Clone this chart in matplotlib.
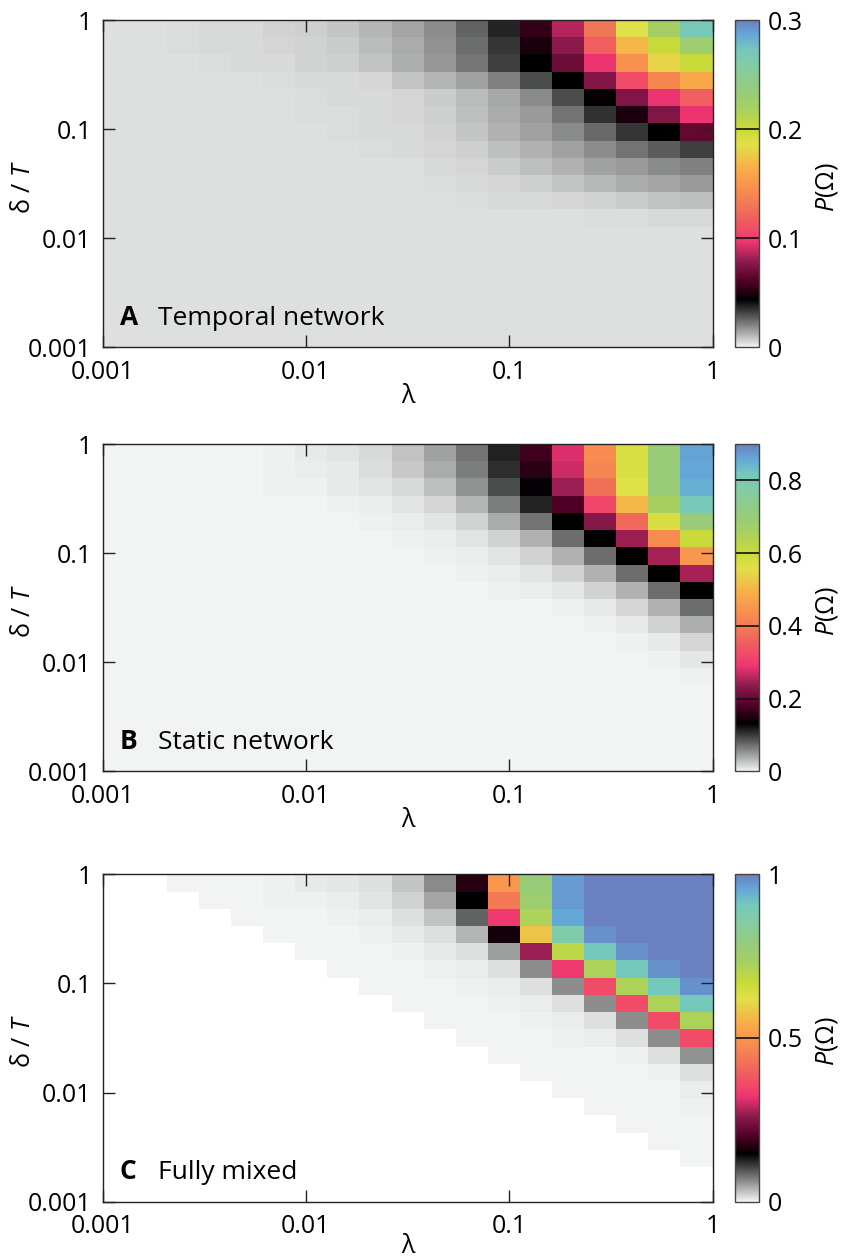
import numpy as np
import matplotlib
matplotlib.use('Agg')
import matplotlib.pyplot as plt
from matplotlib.colors import LinearSegmentedColormap
from matplotlib.ticker import NullLocator

plt.rcParams['font.family'] = ['Open Sans', 'DejaVu Sans']
plt.rcParams['mathtext.fontset'] = 'custom'
plt.rcParams['mathtext.it'] = 'Open Sans:italic'
plt.rcParams['mathtext.rm'] = 'Open Sans'

# ---------------- data ----------------
lam_edges = np.logspace(-3, 0, 20)      # cell edges along lambda (19 cells)
delta_edges = np.logspace(-3, 0, 20)    # cell edges along delta/T (19 cells)
tick_vals = [1e-3, 1e-2, 1e-1, 1]
tick_labels = ['0.001', '0.01', '0.1', '1']

# rows listed from top (delta/T = 1) to bottom (delta/T = 0.001)
P_temporal = [
    [0.0039, 0.0039, 0.0045, 0.0049, 0.0052, 0.0059, 0.0066, 0.0084, 0.0116, 0.0145, 0.0186, 0.0261, 0.0372, 0.054, 0.086, 0.129, 0.186, 0.222, 0.270],
    [0.0039, 0.0039, 0.0043, 0.0047, 0.0050, 0.0055, 0.0061, 0.0075, 0.0102, 0.0131, 0.0177, 0.0242, 0.0340, 0.049, 0.078, 0.117, 0.168, 0.201, 0.228],
    [0.0039, 0.0039, 0.0039, 0.0043, 0.0047, 0.0052, 0.0059, 0.0070, 0.0090, 0.0124, 0.0168, 0.0227, 0.0324, 0.0435, 0.069, 0.096, 0.147, 0.180, 0.201],
    [0.0039, 0.0039, 0.0039, 0.0039, 0.0039, 0.0043, 0.0047, 0.0050, 0.0055, 0.0084, 0.0116, 0.0152, 0.0206, 0.0301, 0.0435, 0.075, 0.108, 0.141, 0.159],
    [0.0039, 0.0039, 0.0039, 0.0039, 0.0039, 0.0039, 0.0043, 0.0047, 0.0050, 0.0055, 0.0075, 0.0102, 0.0138, 0.0190, 0.0301, 0.045, 0.075, 0.096, 0.117],
    [0.0039, 0.0039, 0.0039, 0.0039, 0.0039, 0.0039, 0.0043, 0.0045, 0.0048, 0.0055, 0.0070, 0.0095, 0.0131, 0.0163, 0.0231, 0.0349, 0.0495, 0.075, 0.096],
    [0.0039, 0.0039, 0.0039, 0.0039, 0.0039, 0.0039, 0.0039, 0.0043, 0.0047, 0.0052, 0.0061, 0.0084, 0.0120, 0.0147, 0.0190, 0.0251, 0.0340, 0.0435, 0.066],
    [0.0039, 0.0039, 0.0039, 0.0039, 0.0039, 0.0039, 0.0039, 0.0039, 0.0043, 0.0047, 0.0055, 0.0070, 0.0095, 0.0120, 0.0152, 0.0184, 0.0234, 0.0270, 0.0328],
    [0.0039, 0.0039, 0.0039, 0.0039, 0.0039, 0.0039, 0.0039, 0.0039, 0.0039, 0.0041, 0.0047, 0.0055, 0.0075, 0.0097, 0.0120, 0.0147, 0.0163, 0.0190, 0.0206],
    [0.0039, 0.0039, 0.0039, 0.0039, 0.0039, 0.0039, 0.0039, 0.0039, 0.0039, 0.0039, 0.0043, 0.0047, 0.0055, 0.0070, 0.0084, 0.0111, 0.0131, 0.0145, 0.0163],
    [0.0039, 0.0039, 0.0039, 0.0039, 0.0039, 0.0039, 0.0039, 0.0039, 0.0039, 0.0039, 0.0039, 0.0043, 0.0047, 0.0050, 0.0055, 0.0063, 0.0075, 0.0090, 0.0097],
    [0.0039, 0.0039, 0.0039, 0.0039, 0.0039, 0.0039, 0.0039, 0.0039, 0.0039, 0.0039, 0.0039, 0.0039, 0.0039, 0.0039, 0.0039, 0.0043, 0.0045, 0.0047, 0.0047],
    [0.0039] * 19,
    [0.0039] * 19,
    [0.0039] * 19,
    [0.0039] * 19,
    [0.0039] * 19,
    [0.0039] * 19,
    [0.0039] * 19,
]

P_static = [
    [0, 0, 0.0016, 0.0016, 0.0016, 0.0027, 0.0059, 0.0091, 0.0156, 0.0274, 0.0446, 0.0703, 0.1138, 0.171, 0.279, 0.432, 0.572, 0.702, 0.864],
    [0, 0, 0, 0.0016, 0.0016, 0.0027, 0.0038, 0.0064, 0.0140, 0.0231, 0.0392, 0.0639, 0.1058, 0.158, 0.270, 0.423, 0.572, 0.702, 0.860],
    [0, 0, 0, 0, 0.0016, 0.0021, 0.0027, 0.0054, 0.0097, 0.0156, 0.0295, 0.0532, 0.0897, 0.135, 0.243, 0.378, 0.558, 0.702, 0.850],
    [0, 0, 0, 0, 0, 0.0005, 0.0016, 0.0027, 0.0048, 0.0091, 0.0166, 0.0349, 0.0639, 0.1117, 0.180, 0.315, 0.504, 0.657, 0.810],
    [0, 0, 0, 0, 0, 0, 0.0005, 0.0016, 0.0027, 0.0043, 0.0091, 0.0183, 0.0392, 0.0703, 0.1305, 0.230, 0.369, 0.576, 0.702],
    [0, 0, 0, 0, 0, 0, 0, 0.0005, 0.0016, 0.0021, 0.0043, 0.0091, 0.0177, 0.0360, 0.0725, 0.1305, 0.243, 0.432, 0.603],
    [0, 0, 0, 0, 0, 0, 0, 0, 0, 0.0016, 0.0027, 0.0038, 0.0091, 0.0183, 0.0360, 0.0725, 0.1305, 0.248, 0.450],
    [0, 0, 0, 0, 0, 0, 0, 0, 0, 0, 0.0016, 0.0021, 0.0038, 0.0091, 0.0183, 0.0360, 0.0725, 0.1305, 0.248],
    [0, 0, 0, 0, 0, 0, 0, 0, 0, 0, 0.0011, 0.0011, 0.0021, 0.0038, 0.0075, 0.0183, 0.0360, 0.0725, 0.1305],
    [0, 0, 0, 0, 0, 0, 0, 0, 0, 0, 0, 0, 0, 0.0016, 0.0027, 0.0054, 0.0172, 0.0360, 0.0725],
    [0, 0, 0, 0, 0, 0, 0, 0, 0, 0, 0, 0, 0, 0, 0.0016, 0.0027, 0.0064, 0.0177, 0.0371],
    [0, 0, 0, 0, 0, 0, 0, 0, 0, 0, 0, 0, 0, 0, 0, 0.0016, 0.0027, 0.0064, 0.0166],
    [0, 0, 0, 0, 0, 0, 0, 0, 0, 0, 0, 0, 0, 0, 0, 0.0011, 0.0016, 0.0027, 0.0081],
    [0, 0, 0, 0, 0, 0, 0, 0, 0, 0, 0, 0, 0, 0, 0, 0, 0.0011, 0.0016, 0.0027],
    [0, 0, 0, 0, 0, 0, 0, 0, 0, 0, 0, 0, 0, 0, 0, 0, 0.0011, 0.0016, 0.0016],
    [0, 0, 0, 0, 0, 0, 0, 0, 0, 0, 0, 0, 0, 0, 0, 0, 0, 0.0011, 0.0011],
    [0, 0, 0, 0, 0, 0, 0, 0, 0, 0, 0, 0, 0, 0, 0, 0, 0, 0, 0.0005],
    [0] * 19,
    [0] * 19,
]

n = np.nan
P_mixed = [
    [n, n, 0, 0, 0.0012, 0.0030, 0.0066, 0.0084, 0.0131, 0.028, 0.0627, 0.17, 0.50, 0.78, 0.97, 1, 1, 1, 1],
    [n, n, n, 0, 0.0012, 0.0024, 0.0030, 0.0054, 0.0101, 0.0203, 0.0484, 0.145, 0.44, 0.76, 0.97, 1, 1, 1, 1],
    [n, n, n, n, 0, 0.0012, 0.0018, 0.0030, 0.0054, 0.0131, 0.030, 0.0866, 0.33, 0.72, 0.955, 1, 1, 1, 1],
    [n, n, n, n, n, 0, 0, 0.0012, 0.0030, 0.0066, 0.0131, 0.0388, 0.16, 0.58, 0.87, 0.98, 1, 1, 1],
    [n, n, n, n, n, n, 0, 0, 0.0018, 0.0030, 0.0066, 0.0131, 0.052, 0.27, 0.69, 0.91, 0.98, 1, 1],
    [n, n, n, n, n, n, n, 0, 0, 0.0018, 0.0030, 0.0054, 0.0131, 0.062, 0.33, 0.72, 0.91, 0.98, 1],
    [n, n, n, n, n, n, n, n, 0, 0.0006, 0.0018, 0.0030, 0.0054, 0.0131, 0.062, 0.36, 0.72, 0.91, 0.98],
    [n, n, n, n, n, n, n, n, n, 0, 0.0006, 0.0018, 0.0030, 0.0054, 0.0131, 0.062, 0.36, 0.72, 0.91],
    [n, n, n, n, n, n, n, n, n, n, 0, 0.0006, 0.0018, 0.0030, 0.0054, 0.0131, 0.062, 0.36, 0.72],
    [n, n, n, n, n, n, n, n, n, n, n, 0, 0.0006, 0.0018, 0.0030, 0.0054, 0.0131, 0.062, 0.36],
    [n, n, n, n, n, n, n, n, n, n, n, n, 0, 0, 0.0006, 0.0018, 0.0030, 0.0131, 0.059],
    [n, n, n, n, n, n, n, n, n, n, n, n, n, 0, 0, 0.0006, 0.0018, 0.0030, 0.0131],
    [n, n, n, n, n, n, n, n, n, n, n, n, n, n, 0, 0, 0.0006, 0.0018, 0.0042],
    [n, n, n, n, n, n, n, n, n, n, n, n, n, n, n, 0, 0, 0.0006, 0.0030],
    [n, n, n, n, n, n, n, n, n, n, n, n, n, n, n, n, 0, 0, 0.0018],
    [n, n, n, n, n, n, n, n, n, n, n, n, n, n, n, n, n, 0, 0.0006],
    [n, n, n, n, n, n, n, n, n, n, n, n, n, n, n, n, n, n, 0],
    [n] * 19,
    [n] * 19,
]

vmax_list = [0.3, 0.9, 1.0]
cbar_ticks = [[0, 0.1, 0.2, 0.3], [0, 0.2, 0.4, 0.6, 0.8], [0, 0.5, 1.0]]
cbar_ticklabels = [['0', '0.1', '0.2', '0.3'], ['0', '0.2', '0.4', '0.6', '0.8'], ['0', '0.5', '1']]
panel_letters = ['A', 'B', 'C']
panel_titles = ['Temporal network', 'Static network', 'Fully mixed']

# ---------------- colormap ----------------
stops = [
    (0.000, '#f2f3f3'), (0.145, '#000000'), (0.200, '#500025'), (0.260, '#8a1a4c'),
    (0.320, '#ee3472'), (0.360, '#f04c68'), (0.420, '#f07058'), (0.480, '#f88c50'),
    (0.550, '#f8b048'), (0.620, '#e0e048'), (0.670, '#c8da38'), (0.730, '#a8d060'),
    (0.780, '#98cc78'), (0.870, '#80ccaa'), (0.910, '#74c8bc'), (0.955, '#64a8d8'),
    (1.000, '#6a80c0'),
]
cmap = LinearSegmentedColormap.from_list('pomega', stops, N=512)
cmap.set_bad('white')

# ---------------- layout ----------------
W, H = 842, 1260
fig = plt.figure(figsize=(W / 100, H / 100), dpi=100)
ax_left, ax_w, ax_h = 102.7, 609.8, 327.3
tops = [20.0, 444.0, 874.3]
xlabel_y = [-0.150, -0.150, -0.136]
cb_left, cb_w = 735.0, 24.0
FS = 18
FS_TITLE = 19

for data, vmax, cts, ctl, letter, title, top, xly in zip(
        [P_temporal, P_static, P_mixed], vmax_list, cbar_ticks, cbar_ticklabels,
        panel_letters, panel_titles, tops, xlabel_y):
    bottom = H - (top + ax_h)
    ax = fig.add_axes([ax_left / W, bottom / H, ax_w / W, ax_h / H])
    Z = np.ma.masked_invalid(np.array(data, dtype=float)[::-1])
    mesh = ax.pcolormesh(lam_edges, delta_edges, Z, cmap=cmap, vmin=0, vmax=vmax,
                         shading='flat', antialiased=False, linewidth=0)
    ax.set_xscale('log')
    ax.set_yscale('log')
    ax.set_xlim(1e-3, 1)
    ax.set_ylim(1e-3, 1)
    ax.set_xticks(tick_vals)
    ax.set_xticklabels(tick_labels)
    ax.set_yticks(tick_vals)
    ax.set_yticklabels(tick_labels)
    ax.xaxis.set_minor_locator(NullLocator())
    ax.yaxis.set_minor_locator(NullLocator())
    ax.tick_params(which='major', direction='in', length=8.6, width=1.0, color='#222222',
                   top=True, right=True, labelsize=FS)
    ax.tick_params(axis='x', pad=9)
    ax.tick_params(axis='y', pad=8)
    for sp in ax.spines.values():
        sp.set_linewidth(1.0)
        sp.set_color('#222222')

    ax.text(0.5, xly, 'λ', transform=ax.transAxes, ha='center', va='center', fontsize=FS)
    ax.text(-0.130, 0.49, r'δ / $T$', transform=ax.transAxes, ha='center', va='center',
            rotation=90, fontsize=FS)
    ax.text(0.028, 0.068, letter, transform=ax.transAxes, ha='left', va='baseline',
            fontsize=FS_TITLE, fontweight='bold')
    ax.text(0.0906, 0.068, title, transform=ax.transAxes, ha='left', va='baseline',
            fontsize=FS_TITLE)

    cax = fig.add_axes([cb_left / W, bottom / H, cb_w / W, ax_h / H])
    cb = fig.colorbar(mesh, cax=cax)
    cb.set_ticks(cts)
    cb.set_ticklabels(ctl)
    cax.tick_params(length=0, pad=6, labelsize=FS)
    cb.outline.set_linewidth(1.0)
    cb.outline.set_edgecolor('#444444')
    for t in cts[1:]:
        if t < vmax:
            cax.axhline(t, color='#111111', lw=1.2)
    cax.text(3.85, 0.49, r'$P$(Ω)', transform=cax.transAxes, ha='center', va='center',
             rotation=90, fontsize=FS)

fig.savefig('out.png', dpi=100)
